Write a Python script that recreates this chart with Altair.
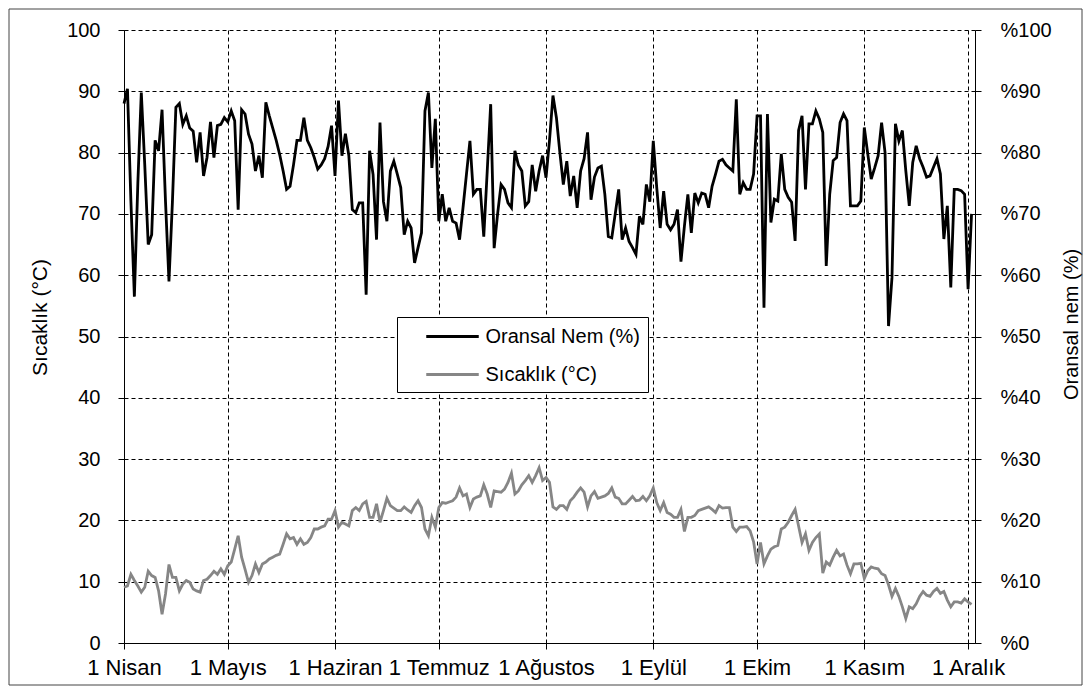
import json
import altair as alt
import pandas as pd

# ---- data (daily values, 1 Nisan -> 2 Aralık) ----
hum_apr = [88.0, 90.4, 72.0, 56.5, 75.0, 89.8, 78.0, 65.0, 66.6, 82.0, 80.3, 87.0, 72.0, 59.0, 72.0,
           87.4, 88.0, 84.6, 86.0, 84.0, 83.5, 78.4, 83.3, 76.2, 79.2, 85.0, 79.2, 84.4, 84.6, 85.7]
hum_may = [85.0, 86.8, 85.2, 70.7, 87.0, 86.3, 83.0, 81.4, 77.0, 79.5, 75.9, 88.2, 86.0, 84.0, 82.0, 79.7,
           77.0, 74.0, 74.5, 78.0, 82.0, 82.0, 85.7, 82.0, 80.8, 79.2, 77.3, 78.0, 79.0, 81.0, 84.4]
hum_jun = [76.2, 88.5, 79.5, 83.1, 79.5, 70.7, 70.2, 71.8, 71.8, 56.8, 80.3, 76.4, 65.8, 84.9, 72.0,
           68.8, 77.0, 78.6, 76.5, 74.3, 66.6, 68.8, 67.7, 62.0, 64.5, 66.9, 86.8, 89.8, 77.5, 85.5]
hum_jul = [68.8, 73.2, 68.8, 71.0, 68.8, 68.5, 65.8, 71.0, 76.5, 81.9, 73.2, 74.0, 74.0, 66.3, 77.0, 87.9,
           64.4, 70.0, 74.8, 74.0, 71.8, 71.0, 80.3, 78.0, 77.0, 71.3, 72.0, 78.0, 73.7, 77.0, 79.5]
hum_aug = [75.9, 82.0, 89.3, 85.7, 80.0, 74.8, 78.6, 72.9, 76.2, 71.0, 77.0, 79.0, 83.3, 72.3, 76.0, 77.5,
           77.8, 73.2, 66.3, 66.1, 70.0, 74.0, 65.8, 67.7, 65.5, 64.5, 63.4, 69.6, 68.3, 74.8, 72.0]
hum_sep = [81.9, 74.3, 67.7, 73.7, 68.3, 67.4, 68.3, 70.7, 62.2, 68.0, 73.2, 66.9, 73.4, 71.8, 73.4,
           73.2, 71.0, 74.5, 76.5, 78.6, 78.9, 78.0, 77.5, 77.0, 88.7, 73.2, 75.1, 74.0, 74.0, 76.5]
hum_oct = [86.0, 86.0, 54.7, 86.3, 68.6, 72.4, 72.1, 79.8, 74.0, 72.7, 71.9, 65.6, 83.6, 86.0, 74.0, 84.7,
           84.7, 86.8, 85.5, 83.3, 61.5, 73.2, 78.7, 79.2, 84.9, 86.3, 85.2, 71.3, 71.3, 71.3, 72.1]
hum_nov = [84.1, 79.8, 75.7, 77.5, 79.5, 84.9, 80.0, 51.7, 59.6, 84.7, 81.9, 83.6, 77.0, 71.3, 78.4,
           81.1, 79.0, 77.6, 76.0, 76.2, 77.6, 79.0, 76.5, 65.9, 71.3, 58.0, 74.0, 74.0, 73.8, 73.2]
hum_dec = [57.7, 70.0]

tmp_apr = [9.1, 9.3, 11.2, 10.2, 9.3, 8.3, 9.1, 11.7, 11.0, 10.7, 8.5, 4.7, 8.0, 12.8, 10.7,
           10.7, 8.5, 9.6, 10.2, 9.9, 8.8, 8.5, 8.3, 10.2, 10.4, 11.0, 11.7, 11.2, 12.1, 11.2]
tmp_may = [12.6, 13.2, 15.3, 17.5, 14.0, 12.0, 9.9, 11.0, 12.9, 11.5, 12.9, 13.2, 13.7, 14.0, 14.3, 14.5,
           16.1, 17.8, 17.0, 17.2, 16.1, 17.0, 16.1, 16.4, 17.2, 18.6, 18.6, 18.9, 19.1, 20.2, 20.2]
tmp_jun = [21.6, 18.9, 19.7, 19.4, 19.1, 21.6, 22.1, 21.6, 22.7, 23.1, 20.5, 20.5, 22.7, 19.7, 21.6,
           23.6, 22.4, 22.0, 21.6, 21.6, 22.2, 21.7, 21.3, 22.4, 23.2, 22.1, 18.6, 17.5, 20.5, 18.9]
tmp_jul = [22.1, 22.9, 22.8, 23.0, 23.2, 23.8, 25.3, 24.0, 24.3, 22.1, 23.5, 23.8, 24.0, 25.8, 24.3, 22.1,
           24.8, 24.7, 24.6, 25.1, 26.2, 27.7, 24.3, 24.8, 25.8, 26.5, 27.3, 26.2, 27.3, 28.6, 26.5]
tmp_aug = [27.0, 26.2, 22.2, 21.8, 22.4, 22.4, 21.8, 23.2, 23.8, 24.6, 25.3, 24.6, 22.2, 24.0, 24.7, 23.6,
           23.8, 24.0, 24.4, 25.3, 23.8, 23.6, 22.7, 22.7, 23.3, 23.9, 23.2, 23.3, 23.9, 23.2, 24.0]
tmp_sep = [25.3, 22.9, 21.6, 22.9, 21.3, 21.0, 20.5, 20.5, 21.8, 18.2, 20.5, 20.5, 20.8, 21.6, 21.8,
           22.0, 22.2, 21.8, 21.3, 22.4, 22.0, 22.1, 22.1, 18.9, 18.2, 18.9, 18.9, 19.0, 18.3, 16.5]
tmp_oct = [12.9, 16.4, 12.9, 14.2, 15.3, 15.7, 15.9, 18.6, 18.9, 19.7, 20.8, 21.8, 19.1, 16.4, 17.8, 15.1,
           16.4, 17.2, 17.8, 11.4, 13.2, 12.7, 14.0, 15.1, 14.2, 14.5, 12.7, 11.3, 12.9, 12.9, 13.0]
tmp_nov = [10.5, 11.8, 12.4, 12.2, 12.1, 11.3, 11.0, 9.5, 7.6, 8.9, 7.6, 5.9, 4.0, 5.9, 5.6,
           6.4, 7.6, 8.4, 7.8, 7.6, 8.4, 8.9, 8.1, 8.4, 7.0, 5.9, 6.7, 6.7, 6.5, 7.2]
tmp_dec = [6.7, 6.3]

month_ticks = [0, 30, 61, 91, 122, 153, 183, 214, 244]
month_labels = ["1 Nisan", "1 Mayıs", "1 Haziran", "1 Temmuz", "1 Ağustos",
                "1 Eylül", "1 Ekim", "1 Kasım", "1 Aralık"]
series_names = ["Oransal Nem (%)", "Sıcaklık (°C)"]
y_ticks = list(range(0, 101, 10))

humidity = hum_apr + hum_may + hum_jun + hum_jul + hum_aug + hum_sep + hum_oct + hum_nov + hum_dec
temperature = tmp_apr + tmp_may + tmp_jun + tmp_jul + tmp_aug + tmp_sep + tmp_oct + tmp_nov + tmp_dec

df = pd.DataFrame({
    "gun": list(range(len(humidity))) + list(range(len(temperature))),
    "deger": humidity + temperature,
    "seri": [series_names[0]] * len(humidity) + [series_names[1]] * len(temperature),
})

FONT = "Liberation Sans"
W, H = 851, 613

label_expr = (json.dumps(month_labels, ensure_ascii=False)
              + "[indexof(" + json.dumps(month_ticks) + ", datum.value)]")

x_enc = alt.X(
    "gun:Q",
    scale=alt.Scale(domain=[0, 246], nice=False, zero=False),
    axis=alt.Axis(values=month_ticks, labelExpr=label_expr, title=None, grid=True,
                  gridDash=[4, 3], gridColor="black", gridWidth=1, tickSize=6,
                  labelPadding=8, labelFlush=False, labelOverlap=False, labelFontSize=22),
)

legend = alt.Legend(
    title=None, orient="none", legendX=273, legendY=287,
    symbolType="M-2.5,0H2.5", symbolSize=441, symbolStrokeWidth=3,
    symbolOffset=36, labelOffset=21, labelFontSize=20, labelFont=FONT,
    labelColor="black", rowPadding=16, padding=7.5,
    strokeColor="black", fillColor="white", cornerRadius=0,
)
color_enc = alt.Color(
    "seri:N",
    scale=alt.Scale(domain=series_names, range=["#000000", "#868686"]),
    legend=legend,
)

temp_line = alt.Chart(df).transform_filter(
    alt.datum.seri == series_names[1]
).mark_line(strokeWidth=2.8).encode(
    x=x_enc,
    y=alt.Y("deger:Q", scale=alt.Scale(domain=[0, 100], nice=False),
            axis=alt.Axis(values=y_ticks, orient="left", title="Sıcaklık (°C)", grid=True,
                          gridDash=[4, 3], gridColor="black", gridWidth=1, tickSize=6,
                          labelPadding=18, titleX=-84, titleY=287, titleAngle=270,
                          titleAlign="center", titleBaseline="middle", titleFontSize=21)),
    color=color_enc,
    order=alt.Order("gun:Q"),
)

hum_line = alt.Chart(df).transform_filter(
    alt.datum.seri == series_names[0]
).mark_line(strokeWidth=2.8).encode(
    x=x_enc,
    y=alt.Y("deger:Q", scale=alt.Scale(domain=[0, 100], nice=False),
            axis=alt.Axis(values=y_ticks, orient="right", title="Oransal nem (%)", grid=False,
                          labelExpr="'%' + datum.value", tickSize=6, labelPadding=19,
                          titleX=96, titleY=294, titleAngle=270,
                          titleAlign="center", titleBaseline="middle")),
    color=color_enc,
    order=alt.Order("gun:Q"),
)

frame = alt.Chart(pd.DataFrame({"k": [0]})).mark_rect(
    filled=False, stroke="#444444", strokeWidth=1
).encode(
    x=alt.value(-115), x2=alt.value(958), y=alt.value(-21), y2=alt.value(655)
)

chart = alt.layer(frame, temp_line, hum_line).resolve_scale(
    y="independent"
).properties(
    width=W, height=H,
    padding={"left": 116, "top": 22, "right": 108, "bottom": 44},
    autosize=alt.AutoSizeParams(type="none"),
    background="white",
).configure_view(
    stroke=None
).configure_axis(
    labelFont=FONT, titleFont=FONT, labelFontSize=20, titleFontSize=20,
    labelColor="black", titleColor="black", titleFontWeight="normal",
    domainColor="black", tickColor="black", domainWidth=1, tickWidth=1,
)

chart.save("out.html", embed_options={"renderer": "svg", "actions": False})
